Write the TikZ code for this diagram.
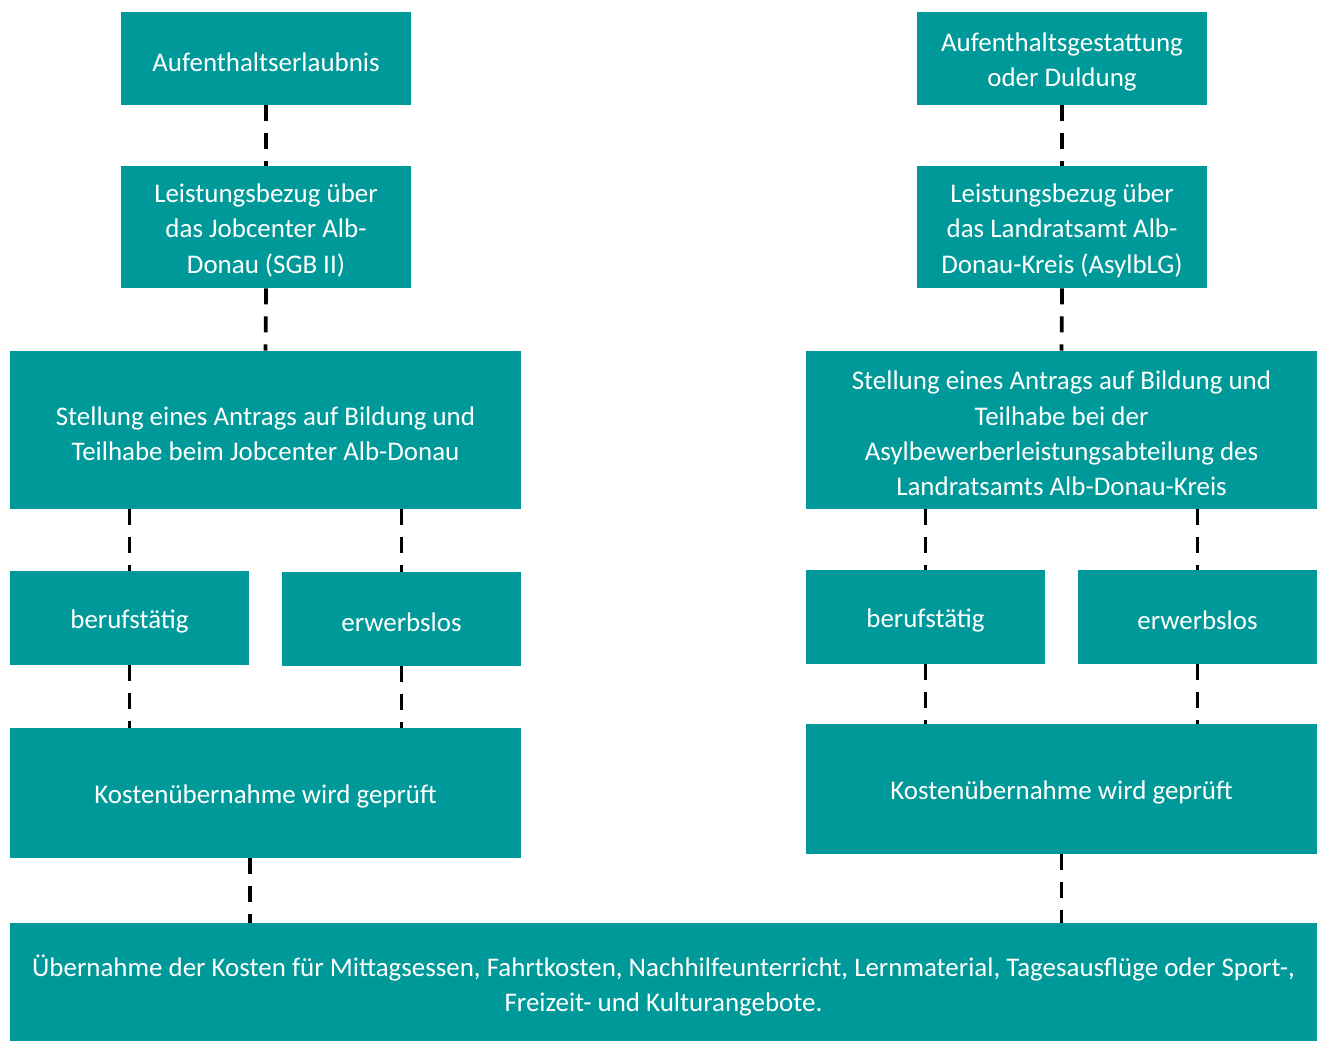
\documentclass[tikz,border=0pt]{standalone}
\usepackage{fontspec}
\setmainfont{Carlito}
\definecolor{tealbox}{RGB}{0,153,153}
\tikzset{
  box/.style={fill=tealbox, inner sep=0pt},
  boxtext/.style={text=white, inner sep=0pt, align=center,
    font=\fontsize{20.2}{26.6}\selectfont},
  conn/.style={line width=2.8pt, dash pattern=on 12pt off 9pt, black}
}
\newcommand{\bx}[7]{% name, x1, y1, x2, y2, text
  \node[box, minimum width={(#4-#2)*0.75pt}, minimum height={(#5-#3)*0.75pt}] (#1) at ({(#2+#4)/2},{(#3+#5)/2}) {};
  \node[boxtext] (#1-t) at ({(#2+#4)/2},{(#3+#5)/2+3.5}) {#6};}
\begin{document}
\begin{tikzpicture}[x=0.75pt,y=-0.75pt]
\useasboundingbox (0,0) rectangle (1323,1042);
\bx{a1}{121}{12}{411}{105}{Aufenthaltserlaubnis}{}
\bx{a2}{121}{166}{411}{288}{Leistungsbezug über\\das Jobcenter Alb-\\Donau (SGB II)}{}
\bx{a3}{10}{351}{521}{509}{Stellung eines Antrags auf Bildung und\\Teilhabe beim Jobcenter Alb-Donau}{}
\bx{a4}{10}{571}{249}{665}{berufstätig}{}
\bx{a5}{282}{572}{521}{666}{erwerbslos}{}
\bx{a6}{10}{728}{521}{858}{Kostenübernahme wird geprüft}{}
\bx{b1}{917}{12}{1207}{105}{Aufenthaltsgestattung\\oder Duldung}{}
\bx{b2}{917}{166}{1207}{288}{Leistungsbezug über\\das Landratsamt Alb-\\Donau-Kreis (AsylbLG)}{}
\bx{b3}{806}{351}{1317}{509}{Stellung eines Antrags auf Bildung und\\Teilhabe bei der\\Asylbewerberleistungsabteilung des\\Landratsamts Alb-Donau-Kreis}{}
\bx{b4}{806}{570}{1045}{664}{berufstätig}{}
\bx{b5}{1078}{570}{1317}{664}{erwerbslos}{}
\bx{b6}{806}{724}{1317}{854}{Kostenübernahme wird geprüft}{}
\bx{bot}{10}{923}{1317}{1041}{Übernahme der Kosten für Mittagsessen, Fahrtkosten, Nachhilfeunterricht, Lernmaterial, Tagesausflüge oder Sport-,\\Freizeit- und Kulturangebote.}{}
\draw[conn] (a1.south) -- (a2.north);
\draw[conn] (a2.south) -- (a3.north);
\draw[conn] (a3.south -| a4.north) -- (a4.north);
\draw[conn] (a3.south -| a5.north) -- (a5.north);
\draw[conn] (a4.south) -- (a4.south |- a6.north);
\draw[conn] (a5.south) -- (a5.south |- a6.north);
\draw[conn] (a6.south -| 250,0) -- (bot.north -| 250,0);
\draw[conn] (b1.south) -- (b2.north);
\draw[conn] (b2.south) -- (b3.north);
\draw[conn] (b3.south -| b4.north) -- (b4.north);
\draw[conn] (b3.south -| b5.north) -- (b5.north);
\draw[conn] (b4.south) -- (b4.south |- b6.north);
\draw[conn] (b5.south) -- (b5.south |- b6.north);
\draw[conn] (b6.south) -- (b6.south |- bot.north);
\end{tikzpicture}
\end{document}
